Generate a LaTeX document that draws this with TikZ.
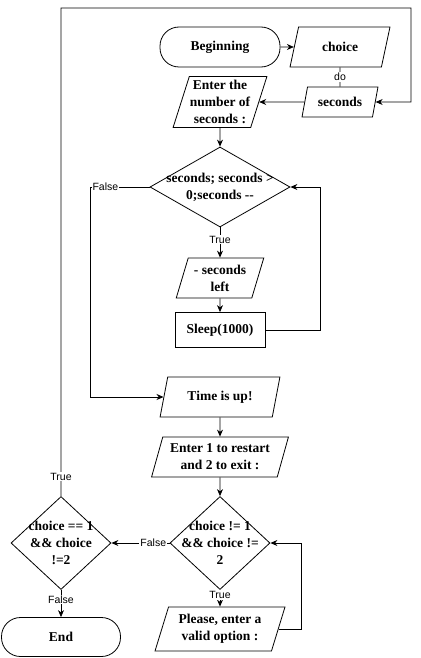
\documentclass[tikz,border=0pt]{standalone}
\usepackage{fontspec}
\setmainfont{Liberation Serif}
\setsansfont{Liberation Sans}
\usetikzlibrary{shapes.geometric,arrows.meta}

\begin{document}
\begin{tikzpicture}[x=1pt,y=-1pt,line width=0.8pt,>={Stealth[length=7pt,width=6pt]},
    every node/.style={font=\fontsize{13.5}{17}\selectfont\bfseries,align=center,inner sep=0.5pt},
    term/.style={draw,rectangle,rounded corners=19pt,minimum width=120pt,minimum height=40pt},
    io/.style={draw,trapezium,trapezium left angle=70,trapezium right angle=110,trapezium stretches=true,minimum height=40pt},
    proc/.style={draw,rectangle,minimum width=90pt,minimum height=35pt},
    decision/.style={draw,diamond,minimum width=100pt,minimum height=93pt},
    lbl/.style={font=\sffamily\fontsize{10.5}{12}\selectfont,fill=white,inner sep=1pt}]
  \useasboundingbox (0,0) rectangle (420,658);
  \node[term] (begin) at (220,47) {Beginning};
  \node[io,minimum width=100pt] (choice) at (340,47) {choice};
  \node[io,minimum width=76pt,minimum height=30pt] (secs) at (340,102) {seconds};
  \node[io,minimum width=88pt,minimum height=51pt] (enter) at (220,102) {Enter the\\number of\\seconds :};
  \node[decision,minimum width=140pt,minimum height=80pt,label={center:seconds; seconds >\\0;seconds -\/-}] (loop) at (220,187) {};
  \node[io,minimum width=88pt] (left) at (220,278) {- seconds\\left};
  \node[proc] (sleep) at (220,330) {Sleep(1000)};
  \node[io,minimum width=120pt] (timeup) at (220,397) {Time is up!};
  \node[io,minimum width=137pt] (restart) at (220,457) {Enter 1 to restart\\and 2 to exit :};
  \node[decision,label={center:choice != 1\\\&\& choice !=\\2}] (check) at (220,543) {};
  \node[io,minimum width=130pt,minimum height=44pt] (retry) at (220,629) {Please, enter a\\valid option :};
  \node[decision,label={center:choice == 1\\\&\& choice\\!=2}] (again) at (61,543) {};
  \node[term,minimum width=119pt,minimum height=39pt] (finish) at (61,637) {End};

  \draw[->] (begin) -- (choice);
  \draw (choice) -- node[lbl]{do} (secs);
  \draw[->] (secs) -- (enter);
  \draw[->] (enter) -- (loop);
  \draw[->] (loop) -- node[lbl,pos=0.4]{True} (left);
  \draw[->] (left) -- (sleep);
  \draw[->] (sleep.east) -- ++(55,0) |- (loop.east);
  \draw[->] (loop.west) -- node[lbl,pos=0.75]{False} ++(-59,0) |- (timeup);
  \draw[->] (timeup) -- (restart);
  \draw[->] (restart) -- (check);
  \draw[->] (check) -- node[lbl,pos=0.3]{True} (retry);
  \draw[->] (retry.east) -- ++(23,0) |- (check.east);
  \draw[->] (check) -- node[lbl,pos=0.28]{False} (again);
  \draw[->] (again) -- node[lbl,pos=0.35]{False} (finish);
  \draw[->] (again.north) -- node[lbl,pos=0.04]{True} (61,8) -| (411,102) -- (secs.east);
\end{tikzpicture}
\end{document}
